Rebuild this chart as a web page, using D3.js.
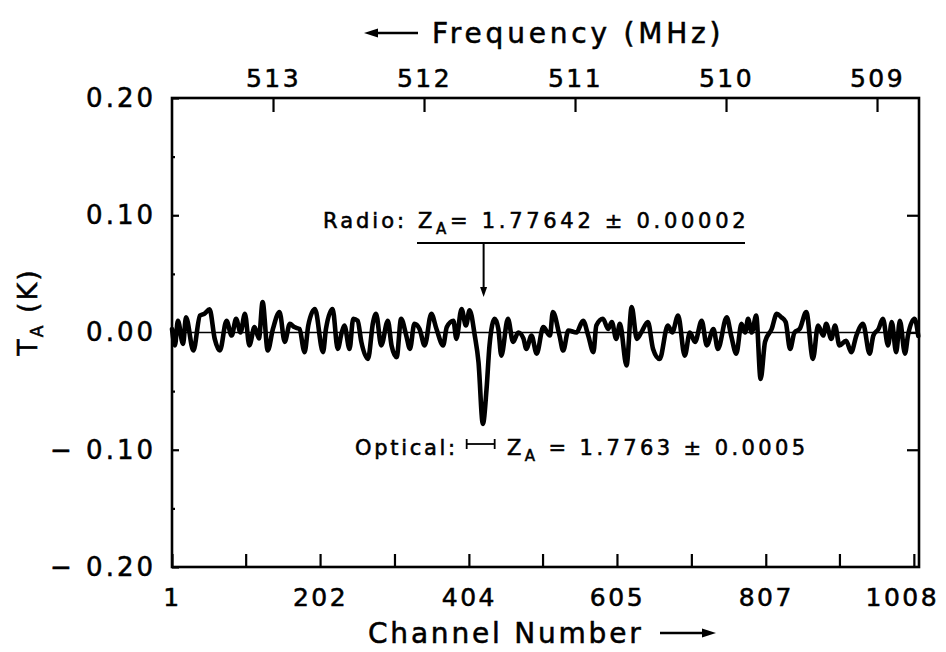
<!DOCTYPE html>
<html>
<head>
<meta charset="utf-8">
<script src="https://cdn.jsdelivr.net/npm/d3@7"></script>
<style>
  body { margin: 0; background: #fff; }
  text { font-family: "DejaVu Sans", sans-serif; fill: #000; stroke: #000; stroke-width: 0.55px; }
</style>
</head>
<body>
<svg id="chart" width="946" height="652"></svg>
<script>
// Antenna temperature spectrum vs. channel number
const channels = [1,5,9,16,20,30,39,45,52,59,66,75,82,88,94,100,106,113,119,124,131,138,147,154,161,167,174,181,186,195,
  206,210,219,226,231,235,242,247,253,258,267,274,278,285,294,299,306,312,319,324,330,337,344,353,360,369,374,383,387,394,
  400,405,412,417,423,428,432,439,444,448,457,464,471,478,482,489,496,505,514,518,527,532,539,550,559,566,573,577,586,593,
  598,604,609,618,625,632,638,647,654,663,674,680,688,697,704,711,720,727,736,742,754,760,767,774,779,783,788,794,800,806,
  815,822,828,834,840,846,853,862,871,878,885,889,896,901,907,916,923,930,939,948,953,960,966,973,978,984,989,996,1000,1009,1014];
const ta = [0.003,-0.011,0.010,-0.0097,0.013,-0.0154,0.0145,0.016,0.0197,-0.0054,-0.0154,0.010,-0.0026,0.0117,0,0.016,-0.011,0.0046,-0.005,0.026,
  -0.0154,0.003,0.0174,-0.008,0.0074,0.0046,0.003,-0.0168,0.006,0.020,
  -0.0168,0.003,0.020,-0.014,-0.001,0.006,-0.014,0.0117,0.010,-0.008,-0.0225,0.009,0.016,-0.011,0.010,-0.011,-0.021,0.0117,-0.0026,-0.014,
  0.0074,0.003,-0.011,0.016,0.003,-0.011,0.0046,0.010,-0.0054,0.020,
  0.006,0.019,-0.0026,-0.025,-0.078,-0.048,-0.011,0.0117,0.003,-0.0197,0.0117,-0.008,0,-0.005,-0.014,-0.0026,-0.018,0.0046,-0.0026,0.0174,
  -0.0026,-0.0154,0.0017,0,0.010,-0.0026,-0.0168,0.006,0.0117,0.003,
  0.009,-0.0054,0.0074,-0.028,0.0217,-0.0054,0,0.009,-0.014,-0.0225,0.006,0,0.0145,-0.0197,0,-0.008,0.010,-0.011,0.003,-0.014,
  0.013,-0.0026,-0.018,0.0074,0,0.0117,0,0.0145,-0.0396,-0.008,
  0.003,0.016,0.013,0.009,-0.014,0,0.003,0.0174,-0.0225,0.006,-0.0026,0.0074,-0.0054,0.006,-0.011,-0.007,-0.0168,-0.0026,0.0074,-0.018,
  -0.0026,0.003,0.0117,-0.011,0.009,-0.0168,0.010,-0.018,-0.0026,0.0117,-0.003];

const channelTicks = [1,101,202,303,404,504,605,706,807,907,1008];
const channelLabels = [1,202,404,605,807,1008];
const freqTicks = [513,512,511,510,509];
const taTicks = [0.20,0.10,0.00,-0.10,-0.20];
const taMinorTicks = [0.15,0.05,-0.05,-0.15];
const rightTicks = [0.10,0.00,-0.10];

const radioLabel = "Radio:";
const radioValue = "= 1.77642 ± 0.00002";
const radioChannel = 424;
const opticalLabel = "Optical:";
const opticalValue = " = 1.7763 ± 0.0005";
const opticalChannel = 420;
const opticalHalfWidth = 19;

const svg = d3.select("#chart");
const box = { left: 172, right: 919, top: 98, bottom: 567 };

const x = d3.scaleLinear().domain([1, 1015]).range([box.left, box.right]);
const y = d3.scaleLinear().domain([-0.2, 0.2]).range([box.bottom, box.top]);
const freq = d3.scaleLinear().domain([513.669, 508.722]).range([box.left, box.right]);

function styleAxis(g, size, spacing) {
  g.select(".domain").remove();
  g.selectAll(".tick line").attr("stroke", "#000").attr("stroke-width", 2.2);
  g.selectAll(".tick text").attr("fill", "#000")
    .style("font-size", size + "px").style("letter-spacing", spacing + "px");
}

// bottom axis: channel number
svg.append("g").attr("transform", `translate(0,${box.bottom})`)
  .call(d3.axisBottom(x).tickValues(channelTicks).tickSizeInner(-13).tickSizeOuter(0).tickPadding(21)
    .tickFormat(d => channelLabels.includes(d) ? String(d) : ""))
  .call(g => styleAxis(g, 25, 2.5))
  .call(g => g.selectAll(".tick text").attr("dx", d => d === 1008 ? -12 : 0));

// top axis: frequency
svg.append("g").attr("transform", `translate(0,${box.top})`)
  .call(d3.axisTop(freq).tickValues(freqTicks).tickSizeInner(-14).tickSizeOuter(0).tickPadding(11)
    .tickFormat(d3.format("d")))
  .call(g => styleAxis(g, 25, 2.5));

// left axis: antenna temperature
svg.append("g").attr("transform", `translate(${box.left},0)`)
  .call(d3.axisLeft(y).tickValues(taTicks).tickSizeInner(-7).tickSizeOuter(0).tickPadding(16)
    .tickFormat(d => d < 0 ? "− " + d3.format(".2f")(-d) : d3.format(".2f")(d)))
  .call(g => styleAxis(g, 26, 3));

svg.append("g").attr("transform", `translate(${box.left},0)`)
  .call(d3.axisLeft(y).tickValues(taMinorTicks).tickSizeInner(-3).tickSizeOuter(0).tickFormat(""))
  .call(g => styleAxis(g, 26, 3));

// right axis ticks
svg.append("g").attr("transform", `translate(${box.right},0)`)
  .call(d3.axisRight(y).tickValues(rightTicks).tickSizeInner(-12).tickSizeOuter(0).tickFormat(""))
  .call(g => styleAxis(g, 26, 3));

// frame
svg.append("rect")
  .attr("x", box.left).attr("y", box.top)
  .attr("width", box.right - box.left).attr("height", box.bottom - box.top)
  .attr("fill", "none").attr("stroke", "#000").attr("stroke-width", 2.6);

// zero baseline
svg.append("line")
  .attr("x1", box.left).attr("x2", box.right)
  .attr("y1", y(0)).attr("y2", y(0))
  .attr("stroke", "#000").attr("stroke-width", 1.5);

// spectrum trace
const line = d3.line()
  .x((d, i) => x(channels[i]))
  .y(d => y(d))
  .curve(d3.curveMonotoneX);

svg.append("path")
  .datum(ta)
  .attr("d", line)
  .attr("fill", "none")
  .attr("stroke", "#000")
  .attr("stroke-width", 4.6)
  .attr("stroke-linejoin", "round")
  .attr("stroke-linecap", "round");

// axis titles
const title = svg.append("g");
title.append("text")
  .attr("x", 432).attr("y", 43)
  .style("font-size", "28px").style("letter-spacing", "3.8px")
  .text("Frequency (MHz)");
title.append("line")
  .attr("x1", 372).attr("x2", 418).attr("y1", 33).attr("y2", 33)
  .attr("stroke", "#000").attr("stroke-width", 2.5);
title.append("path")
  .attr("d", "M364,33 L378,28.5 L378,37.5 Z").attr("fill", "#000");

const xTitle = svg.append("g");
xTitle.append("text")
  .attr("x", 368).attr("y", 643)
  .style("font-size", "28px").style("letter-spacing", "2.8px")
  .text("Channel Number");
xTitle.append("line")
  .attr("x1", 660).attr("x2", 706).attr("y1", 633).attr("y2", 633)
  .attr("stroke", "#000").attr("stroke-width", 2.5);
xTitle.append("path")
  .attr("d", "M716,633 L702,628.5 L702,637.5 Z").attr("fill", "#000");

const yTitle = svg.append("text")
  .attr("transform", "translate(37,312) rotate(-90)")
  .attr("text-anchor", "middle")
  .style("font-size", "27px").style("letter-spacing", "2px");
yTitle.append("tspan").text("T");
yTitle.append("tspan").attr("dy", 6).style("font-size", "17px").text("A");
yTitle.append("tspan").attr("dy", -6).text(" (K)");

// radio redshift annotation
const ann = svg.append("g");
ann.append("text")
  .attr("x", 323).attr("y", 228)
  .style("font-size", "21px").style("letter-spacing", "3px")
  .text(radioLabel);
const rz = ann.append("text")
  .attr("x", 418).attr("y", 228)
  .style("font-size", "21px").style("letter-spacing", "3.7px");
rz.append("tspan").text("Z");
rz.append("tspan").attr("dy", 6).style("font-size", "15px").text("A");
rz.append("tspan").attr("dy", -6).text(radioValue);

ann.append("line")
  .attr("x1", 417).attr("x2", 745).attr("y1", 243).attr("y2", 243)
  .attr("stroke", "#000").attr("stroke-width", 2);
ann.append("line")
  .attr("x1", x(radioChannel)).attr("x2", x(radioChannel))
  .attr("y1", 243).attr("y2", 289)
  .attr("stroke", "#000").attr("stroke-width", 2);
ann.append("path")
  .attr("d", `M${x(radioChannel) - 3.5},287 L${x(radioChannel) + 3.5},287 L${x(radioChannel)},297 Z`)
  .attr("fill", "#000");

// optical redshift annotation with its error bar
ann.append("text")
  .attr("x", 355).attr("y", 455)
  .style("font-size", "21px").style("letter-spacing", "2.7px")
  .text(opticalLabel);
const ex0 = x(opticalChannel - opticalHalfWidth), ex1 = x(opticalChannel + opticalHalfWidth);
ann.append("line").attr("x1", ex0).attr("x2", ex1).attr("y1", 444).attr("y2", 444)
  .attr("stroke", "#000").attr("stroke-width", 1.8);
[ex0, ex1].forEach(e => ann.append("line")
  .attr("x1", e).attr("x2", e).attr("y1", 439).attr("y2", 449)
  .attr("stroke", "#000").attr("stroke-width", 1.8));
const oz = ann.append("text")
  .attr("x", 507).attr("y", 455)
  .style("font-size", "21px").style("letter-spacing", "3.4px");
oz.append("tspan").text("Z");
oz.append("tspan").attr("dy", 6).style("font-size", "15px").text("A");
oz.append("tspan").attr("dy", -6).text(opticalValue);
</script>
</body>
</html>
